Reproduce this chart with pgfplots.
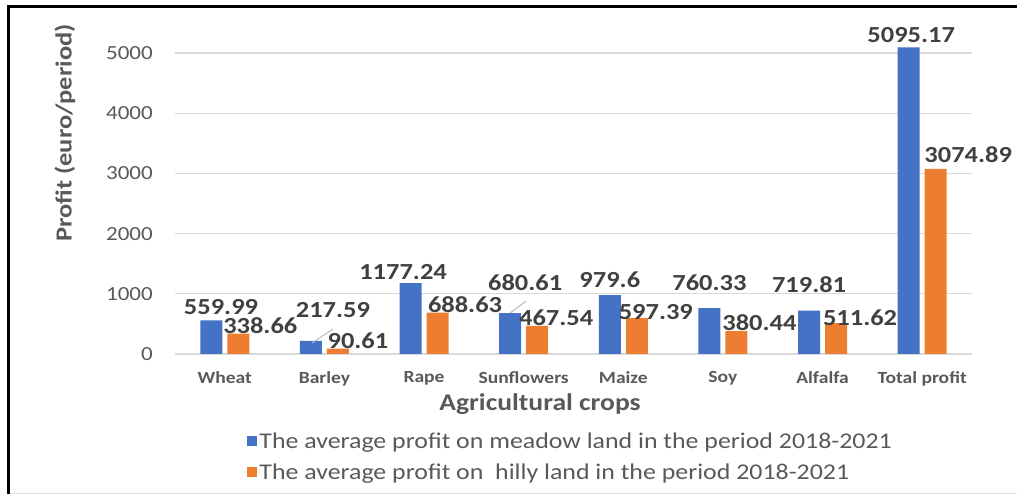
\documentclass[border=0pt]{standalone}
\usepackage{pgfplots}
\pgfplotsset{compat=1.18}
\usepackage{pgfplotstable}
\usepackage{fontspec}
\setmainfont[FakeStretch=1.15]{Carlito}
\definecolor{cblue}{HTML}{4472C4}
\definecolor{corange}{HTML}{ED7D31}
\definecolor{tgray}{HTML}{595959}
\definecolor{lgray}{HTML}{404040}
\definecolor{ggray}{HTML}{D9D9D9}

\pgfplotstableread{
x y lab dx dy
0 559.99 559.99 9.7 13
1 217.59 217.59 22 31
2 1177.24 1177.24 -7.5 11
3 680.61 680.61 15 30
4 979.6 979.6 0 15
5 760.33 760.33 0 25
6 719.81 719.81 0 26
7 5095.17 5095.17 2.5 12
}\meadow
\pgfplotstableread{
x y lab dx dy
0 338.66 338.66 22 8
1 90.61 90.61 20 7.5
2 688.63 688.63 27.5 7.5
3 467.54 467.54 19 8
4 597.39 597.39 19 6
5 380.44 380.44 23 8
6 511.62 511.62 24 5
7 3074.89 3074.89 32.5 14
}\hilly

\begin{document}
\begin{tikzpicture}
\useasboundingbox (0,0) rectangle (1017pt,495pt);
\begin{axis}[
  at={(175pt,141pt)}, anchor=south west,
  scale only axis, width=797pt, height=301pt,
  ybar=5pt, bar width=22pt,
  xmin=-0.5, xmax=7.5, ymin=0, ymax=5000,
  xtick={0,...,7},
  xticklabels={Wheat,Barley,Rape,Sunflowers,Maize,Soy,Alfalfa,Total profit},
  ytick={0,1000,...,5000},
  ymajorgrids, major grid style={ggray, line width=1.3pt},
  axis line style={draw=none}, major tick length=0pt,
  clip=false,
  /pgf/number format/assume math mode=true,
  /pgf/number format/1000 sep={},
  yticklabel style={font=\fontsize{20}{22}\selectfont, text=tgray, inner sep=0pt, anchor=east, xshift=-22pt},
  xticklabel style={font=\fontsize{17}{19}\selectfont\bfseries, text=tgray, inner sep=0pt, anchor=north, yshift=-17pt},
  xlabel={Agricultural crops},
  xlabel style={at={(axis description cs:0.458,-0.166)}, anchor=center, font=\fontsize{24}{26}\selectfont\bfseries, text=tgray},
  ylabel={Profit (euro/period)},
  ylabel style={at={(axis description cs:-0.138,0.734)}, anchor=center, font=\fontsize{23}{25}\selectfont\bfseries, text=tgray},
  legend style={at={(axis description cs:0.0906,-0.254)}, anchor=north west, draw=none, fill=none,
    font=\fontsize{22.5}{24}\selectfont, text=tgray, inner sep=0pt, row sep=10pt,
    /tikz/every even column/.append style={column sep=4pt}},
  legend cell align=left,
]
\addplot[fill=cblue, draw=none,
  legend image code/.code={\fill[cblue] (0pt,-5pt) rectangle (10pt,5pt);},
  nodes near coords, point meta=explicit symbolic,
  visualization depends on={\thisrow{dx} \as \dx},
  visualization depends on={\thisrow{dy} \as \dy},
  every node near coord/.append style={anchor=center, xshift=\dx pt, yshift=\dy pt,
    font=\fontsize{23}{25}\selectfont\bfseries, text=lgray, inner sep=0pt}]
  table[x=x, y=y, meta=lab] {\meadow};
\addplot[fill=corange, draw=none,
  legend image code/.code={\fill[corange] (0pt,-5pt) rectangle (10pt,5pt);},
  nodes near coords, point meta=explicit symbolic,
  visualization depends on={\thisrow{dx} \as \dx},
  visualization depends on={\thisrow{dy} \as \dy},
  every node near coord/.append style={anchor=center, xshift=\dx pt, yshift=\dy pt,
    font=\fontsize{23}{25}\selectfont\bfseries, text=lgray, inner sep=0pt}]
  table[x=x, y=y, meta=lab] {\hilly};
\legend{The average profit on meadow land in the period 2018-2021, The average profit on\ \ hilly land in the period 2018-2021}
\draw[gray!55, line width=1pt] (axis cs:0.876,183) -- (axis cs:1.086,415);
\draw[gray!55, line width=1pt] (axis cs:2.863,681) -- (axis cs:3.024,880);
\end{axis}
\draw[black, line width=2.5pt] (8.5pt,1pt) -- (8.5pt,488.5pt) -- (1017pt,488.5pt);
\draw[black!12, line width=1.5pt] (10pt,1.5pt) -- (1017pt,1.5pt);
\end{tikzpicture}
\end{document}
